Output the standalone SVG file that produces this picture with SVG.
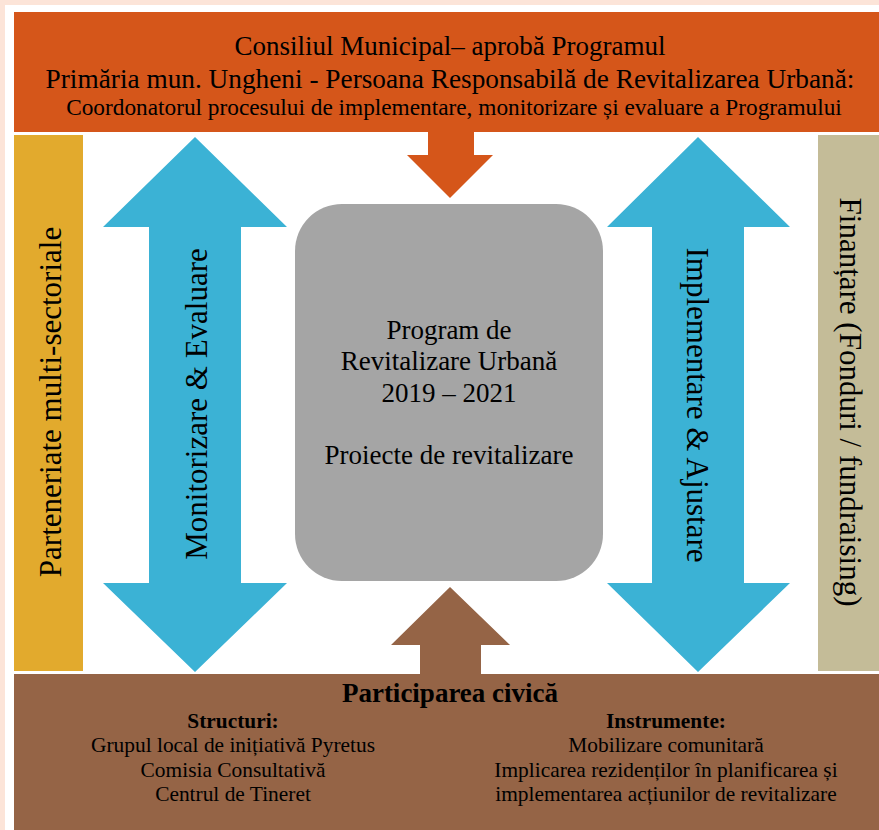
<svg xmlns="http://www.w3.org/2000/svg" width="879" height="830" viewBox="0 0 879 830">
  <style>
    text { font-family: "Liberation Serif", "Times New Roman", serif; fill: #000; }
    .c { text-anchor: middle; }
    .b { font-weight: bold; }
    .t27 { font-size: 27px; }
    .t23 { font-size: 23.3px; }
    .t31 { font-size: 31px; }
    .t21 { font-size: 21.4px; }
    .blue { fill: #3BB2D5; }
  </style>

  <!-- page frame -->
  <rect x="0" y="0" width="879" height="830" fill="#FCE4D8"/>
  <rect x="5" y="5" width="874" height="825" fill="#FFFFFF"/>

  <!-- top: council / mayor's office -->
  <g id="council">
    <rect x="14" y="12" width="865" height="120" fill="#D5561A"/>
    <text class="c t27" x="450" y="55">Consiliul Municipal– aprobă Programul</text>
    <text class="c t27" x="450" y="88" style="font-size:27.3px">Primăria mun. Ungheni - Persoana Responsabilă de Revitalizarea Urbană:</text>
    <text class="c t23" x="454" y="115">Coordonatorul procesului de implementare, monitorizare și evaluare a Programului</text>
  </g>

  <!-- left side bar -->
  <g id="partnerships">
    <rect x="14" y="135" width="69" height="536" fill="#E2AA2D"/>
    <text class="c t31" transform="translate(61,402) rotate(-90)">Parteneriate multi-sectoriale</text>
  </g>

  <!-- right side bar -->
  <g id="funding">
    <rect x="818" y="135" width="61" height="536" fill="#C4BC98"/>
    <text class="c t31" transform="translate(840,402) rotate(90)">Finanțare (Fonduri / fundraising)</text>
  </g>

  <!-- central programme -->
  <g id="program">
    <rect x="295" y="204" width="308" height="377" rx="47" ry="47" fill="#A5A5A5"/>
    <text class="c t27" x="449" y="339">Program de</text>
    <text class="c t27" x="449" y="370">Revitalizare Urbană</text>
    <text class="c t27" x="449" y="402">2019 – 2021</text>
    <text class="c t27" x="449" y="464">Proiecte de revitalizare</text>
  </g>

  <!-- bottom: civic participation -->
  <g id="civic">
    <rect x="14" y="674" width="865" height="156" fill="#956446"/>
    <text class="c b t27" x="450" y="702">Participarea civică</text>
    <text class="c b t21" x="233" y="728">Structuri:</text>
    <text class="c t21" x="233" y="752">Grupul local de inițiativă Pyretus</text>
    <text class="c t21" x="233" y="777">Comisia Consultativă</text>
    <text class="c t21" x="233" y="801">Centrul de Tineret</text>
    <text class="c b t21" x="666" y="728">Instrumente:</text>
    <text class="c t21" x="666" y="752">Mobilizare comunitară</text>
    <text class="c t21" x="666" y="777">Implicarea rezidenților în planificarea și</text>
    <text class="c t21" x="666" y="801">implementarea acțiunilor de revitalizare</text>
  </g>

  <!-- flows between the blocks -->
  <g id="connectors">
    <g id="monitoring">
      <polygon class="blue" points="195,137 287,227 241,227 241,583 287,583 195,672 103,583 149,583 149,227 103,227"/>
      <text class="c t31" transform="translate(207,404) rotate(-90)">Monitorizare &amp; Evaluare</text>
    </g>
    <g id="implementation">
      <polygon class="blue" points="698,137 790,227 744,227 744,583 790,583 698,672 607,583 652,583 652,227 607,227"/>
      <text class="c t31" transform="translate(687,405) rotate(90)">Implementare &amp; Ajustare</text>
    </g>
    <polygon id="approval" fill="#D5561A" points="428,132 474,132 474,155 493,155 450,198 407,155 428,155"/>
    <polygon id="participation" fill="#956446" points="450,587 510,645 481,645 481,674 420,674 420,645 391,645"/>
  </g>
</svg>
